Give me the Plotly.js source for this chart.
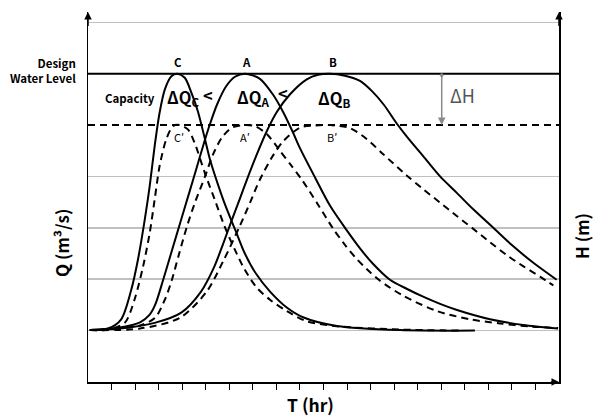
<!DOCTYPE html>
<html><head><meta charset="utf-8">
<script src="https://cdn.plot.ly/plotly-3.0.1.min.js"></script>
<style>html,body{margin:0;padding:0;background:#fff}#chart{width:599px;height:417px}</style>
</head><body><div id="chart"></div>
<script>
// Hydrographs (T in hr units, Q in grid units)
const cSolidX = [0.07,0.85,1.41,1.84,2.12,2.41,2.62,2.83,3.04,3.26,3.54,3.79,4.11,4.39,4.67,4.97,5.18,5.52,5.82,6.09,6.28,6.65,7.13,7.73,8.44,9.13,10.57,13.25,16.43];
const cSolidY = [1.01,1.04,1.22,1.80,2.38,3.16,3.81,4.59,5.24,5.69,5.95,6.00,5.92,5.63,5.26,4.72,4.33,3.84,3.45,3.14,2.93,2.51,2.11,1.76,1.45,1.26,1.09,1.01,1.00];
const cDashX = [0.08,0.85,1.56,1.98,2.34,2.62,2.83,3.04,3.32,3.61,3.89,4.25,4.53,4.96,5.38,5.80,6.23,6.65,7.16,7.73,8.44,9.29,10.70,13.25,15.80];
const cDashY = [1.01,1.02,1.15,1.61,2.25,2.90,3.55,4.20,4.72,4.98,5.00,4.91,4.65,4.07,3.55,3.03,2.58,2.19,1.84,1.60,1.38,1.18,1.08,1.02,1.00];
const aSolidX = [0.08,1.36,2.21,2.60,2.85,3.18,3.57,3.91,4.29,4.62,4.97,5.18,5.48,5.86,6.24,6.67,7.30,7.86,8.28,8.70,9.00,9.64,10.28,10.96,11.55,12.10,12.82,13.55,14.23,14.95,15.67,17.07,18.47,19.96];
const aSolidY = [1.01,1.06,1.16,1.30,1.50,1.97,2.57,3.09,3.67,4.18,4.72,5.02,5.40,5.75,5.94,6.00,5.90,5.59,5.26,4.86,4.55,3.98,3.43,2.97,2.60,2.30,1.99,1.81,1.66,1.52,1.40,1.22,1.11,1.04];
const aDashX = [0.08,2.21,2.85,3.27,3.55,3.86,4.19,4.54,4.97,5.31,5.69,6.11,6.71,7.13,7.60,8.15,8.62,9.09,9.77,10.40,10.91,11.42,11.97,12.40,13.38,14.82,16.22,17.49,18.77,19.96];
const aDashY = [1.01,1.10,1.25,1.61,1.97,2.48,3.01,3.49,4.00,4.43,4.76,4.95,5.00,4.97,4.82,4.50,4.22,3.93,3.45,2.99,2.67,2.39,2.14,1.97,1.68,1.38,1.22,1.14,1.08,1.05];
const bSolidX = [0.08,1.36,2.83,3.96,4.80,5.35,5.73,6.09,6.45,6.75,7.16,7.59,8.01,8.58,9.29,9.77,10.28,10.91,11.55,12.06,12.57,13.11,13.53,14.24,14.95,15.66,16.36,17.21,18.06,18.91,19.90];
const bSolidY = [1.01,1.04,1.15,1.35,1.76,2.23,2.68,3.13,3.57,3.94,4.42,4.88,5.25,5.60,5.89,5.98,6.00,5.96,5.86,5.66,5.39,5.03,4.78,4.39,4.00,3.68,3.36,3.00,2.64,2.32,1.99];
const bDashX = [0.08,2.21,3.91,5.04,5.75,6.45,6.88,7.30,7.86,8.28,9.00,9.64,10.28,11.13,11.83,12.54,13.53,14.24,14.95,15.66,16.36,17.07,17.78,18.49,19.19,19.76];
const bDashY = [1.01,1.04,1.25,1.76,2.36,3.04,3.49,3.94,4.41,4.68,4.95,4.99,5.00,4.94,4.73,4.43,4.02,3.75,3.49,3.23,2.98,2.72,2.47,2.25,2.05,1.88];

const designLevel = 6;
const reducedLevel = 5;
const gridLevels = [1,2,3,4,7];
const timeTicks = [1,2,3,4,5,6,7,8,9,10,11,12,13,14,15,16,17,18,19];
const peakLabels = ['C','A','B'];
const peakX = [3.82,6.71,10.39];
const primeLabels = ['C′','A′','B′'];
const primeX = [3.86,6.67,10.36];

const FONT = '"Noto Sans CJK KR", "Noto Sans", sans-serif';
const solid = {color:'#000', width:2};
const dashed = {color:'#000', width:2, dash:'7px,5px'};
const mk = (x,y,line)=>({x:x,y:y,type:'scatter',mode:'lines',line:Object.assign({shape:'spline',smoothing:0.8},line),hoverinfo:'skip',showlegend:false});

const traces = [
  mk(cSolidX,cSolidY,solid), mk(cDashX,cDashY,dashed),
  mk(aSolidX,aSolidY,solid), mk(aDashX,aDashY,dashed),
  mk(bSolidX,bSolidY,solid), mk(bDashX,bDashY,dashed)
];

const ann = [];
const txt = (x,y,t,size,opts)=>Object.assign({x:x,y:y,xref:'x',yref:'y',text:t,showarrow:false,xanchor:'center',yanchor:'middle',font:{family:FONT,size:size,color:'#000'}},opts||{});
const ptxt = (x,y,t,size,opts)=>Object.assign({x:x,y:y,xref:'paper',yref:'paper',text:t,showarrow:false,xanchor:'center',yanchor:'middle',font:{family:FONT,size:size,color:'#000'}},opts||{});
peakLabels.forEach((l,i)=>ann.push(txt(peakX[i],6.23,'<b>'+l+'</b>',11.5)));
primeLabels.forEach((l,i)=>ann.push(txt(primeX[i],4.77,l,11)));
ann.push(txt(1.80,5.52,'<b>Capacity</b>',11.5));
ann.push(txt(3.27,5.53,'<b>ΔQ<sub>C</sub></b>',16.5,{xanchor:'left'}));
ann.push(txt(5.10,5.58,'<b><</b>',16.5));
ann.push(txt(6.24,5.53,'<b>ΔQ<sub>A</sub></b>',16.5,{xanchor:'left'}));
ann.push(txt(8.26,5.62,'<b><</b>',16.5));
ann.push(txt(9.68,5.51,'<b>ΔQ<sub>B</sub></b>',16.5,{xanchor:'left'}));
ann.push(txt(15.29,5.58,'ΔH',18,{xanchor:'left',font:{family:FONT,size:18,color:'#555'}}));
// outside-plot texts (paper coordinates)
ann.push(ptxt(-0.021,0.843,'<b>Design<br>Water Level</b>',11.5,{xanchor:'right',align:'right'}));
ann.push(ptxt(-0.055,0.376,'<b>Q (m³/s)</b>',17,{textangle:-90}));
ann.push(ptxt(1.049,0.395,'<b>H (m)</b>',17,{textangle:-90}));
ann.push(ptxt(0.472,-0.062,'<b>T (hr)</b>',17.5));
// ΔH arrow
ann.push({x:15.02,y:reducedLevel,ax:15.02,ay:designLevel,xref:'x',yref:'y',axref:'x',ayref:'y',text:'',showarrow:true,arrowhead:2,arrowsize:1,arrowwidth:1.5,arrowcolor:'#8a8a8a',arrowside:'end+start',startarrowhead:6,startarrowsize:0.6});
// axis arrows
const axArrow = (x,y,ax,ay)=>({x:x,y:y,ax:ax,ay:ay,xref:'x',yref:'y',axref:'x',ayref:'y',text:'',showarrow:true,arrowhead:2,arrowsize:1,arrowwidth:1.5,arrowcolor:'#000'});
ann.push(axArrow(0,7.2,0,6.9));
ann.push(axArrow(20,7.2,20,6.9));
ann.push(axArrow(20,0,19.6,0));

const layout = {
  width:599, height:417,
  margin:{l:88,r:40,t:12,b:35},
  paper_bgcolor:'#fff', plot_bgcolor:'#fff',
  xaxis:{range:[0,20],showgrid:false,zeroline:false,showline:true,linecolor:'#000',linewidth:1.5,
         ticks:'outside',tickvals:timeTicks,ticklen:6,tickwidth:1,tickcolor:'#000',showticklabels:false,fixedrange:true},
  yaxis:{range:[0,7.2],showgrid:true,gridcolor:'#c0c0c0',gridwidth:1.5,tickvals:gridLevels,zeroline:false,
         showline:true,mirror:true,linecolor:'#000',linewidth:1.5,ticks:'',showticklabels:false,fixedrange:true},
  shapes:[
    {type:'line',xref:'x',yref:'y',x0:0,x1:20,y0:designLevel,y1:designLevel,line:{color:'#000',width:2}},
    {type:'line',xref:'x',yref:'y',x0:0,x1:20,y0:reducedLevel,y1:reducedLevel,line:{color:'#000',width:2,dash:'7px,5px'}}
  ],
  annotations:ann,
  showlegend:false
};
Plotly.newPlot('chart',traces,layout,{displayModeBar:false,staticPlot:true});
</script></body></html>
